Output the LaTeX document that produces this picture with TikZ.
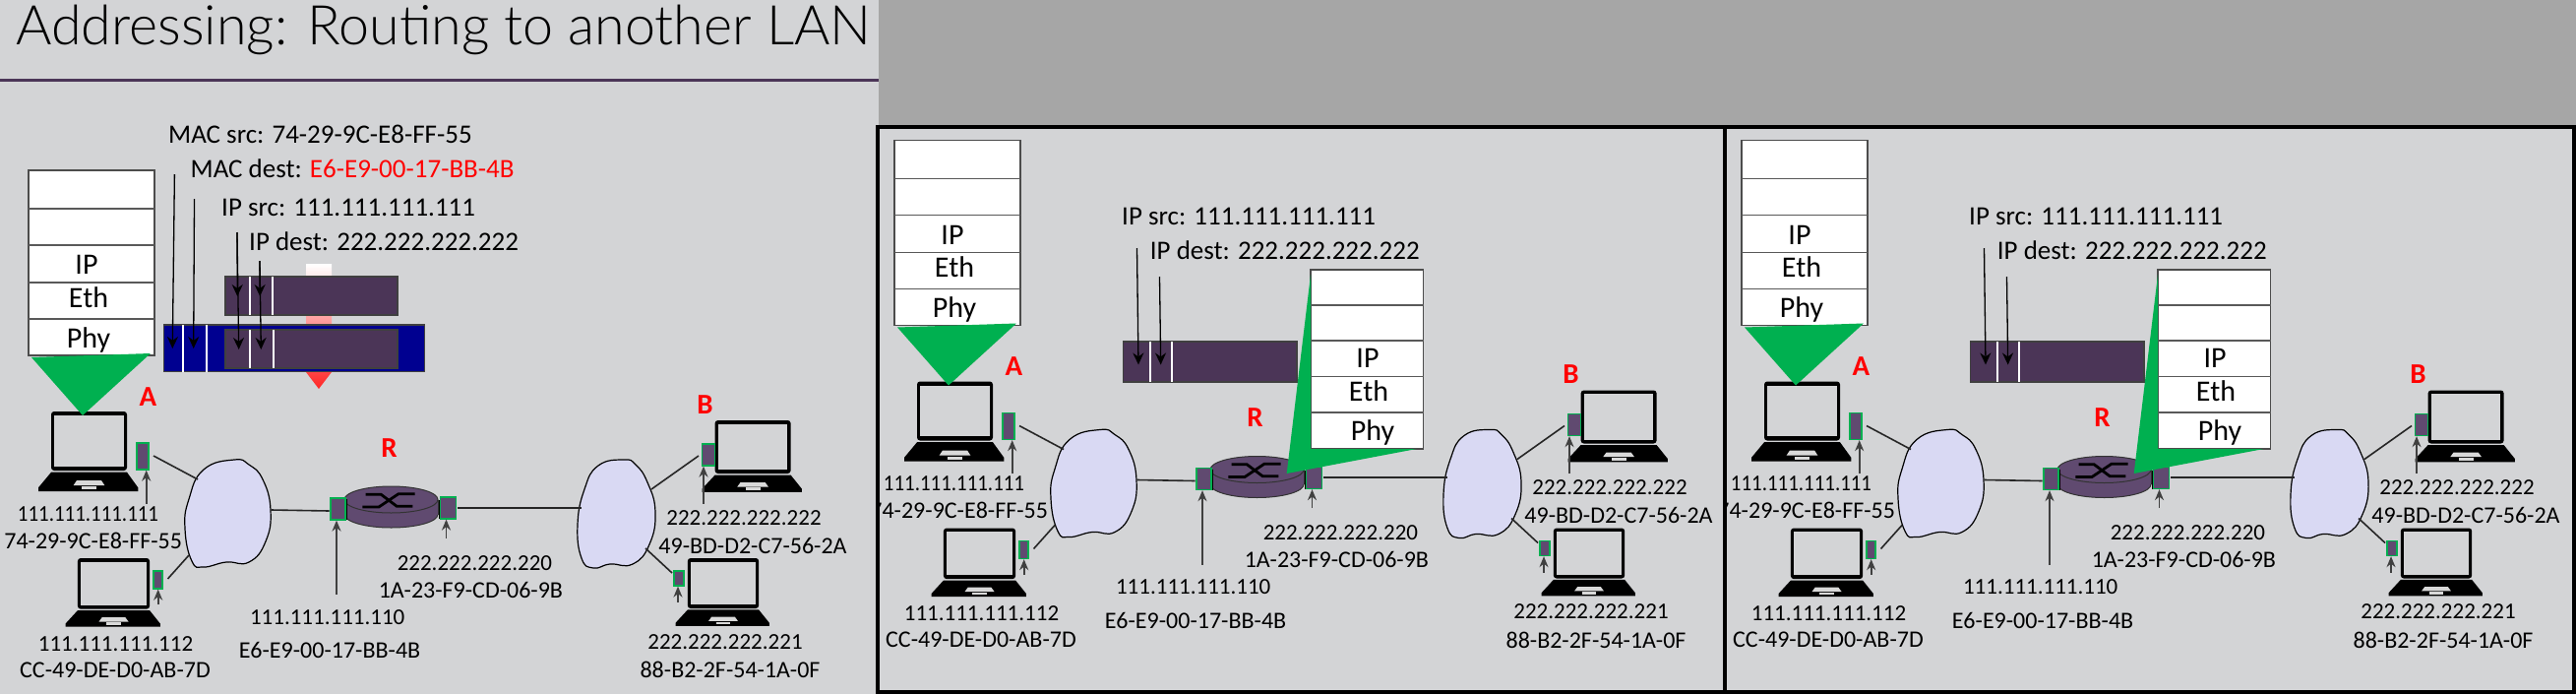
\documentclass[tikz,border=0pt]{standalone}
\usepackage{fontspec}
\setmainfont{Carlito}
\newfontfamily\titlefont{Lato Light}
\usepackage{xcolor}
\usetikzlibrary{arrows.meta}
\definecolor{panelgray}{HTML}{D3D4D6}
\definecolor{topgray}{HTML}{A6A6A6}
\definecolor{plum}{HTML}{4B3557}
\definecolor{routerplum}{HTML}{604A70}
\definecolor{stackgreen}{HTML}{00B050}
\definecolor{framenavy}{HTML}{000090}
\definecolor{cloudblue}{HTML}{D9D9F3}
\tikzset{
  netlabel/.style={inner sep=0pt,font=\fontsize{23}{27}\selectfont},
  maclabel/.style={inner sep=0pt,font=\fontsize{24}{27}\selectfont},
  fieldlabel/.style={inner sep=0pt,anchor=west,font=\fontsize{27}{30}\selectfont},
  layerlabel/.style={inner sep=0pt,font=\fontsize{30}{32}\selectfont},
  hostname/.style={inner sep=0pt,text=red,font=\bfseries\fontsize{29}{32}\selectfont},
  stackbox/.style={fill=white,draw=black!70,line width=1.5pt},
  stackline/.style={draw=black!65,line width=1.5pt},
  iface/.style={draw=stackgreen,fill=routerplum,line width=1.3pt,inner sep=0pt},
  wire/.style={draw=black!85,line width=1.6pt},
  labelarrow/.style={draw=black!75,line width=1.6pt,-{Stealth[length=11pt,width=9pt]}},
  fieldarrow/.style={draw=black,line width=1.3pt,-{Stealth[length=12pt,width=11pt]}},
  packetbox/.style={fill=plum,draw=black!75,line width=1.3pt},
  fieldbar/.style={draw=white,line width=2.4pt},
  laptop/.pic={
    \fill[black,rounded corners=3pt] (13,0) rectangle (90,60);
    \fill[panelgray] (16.3,4.3) rectangle (86.7,55.7);
    \fill[black] (13,61.7) -- (90,61.7) -- (101.3,77.3) -- (101.3,81) -- (0,81) -- (0,77.3) -- cycle;
    \fill[black!15] (39,70) -- (64,70) -- (67.3,75) -- (35.7,75) -- cycle;
    \fill[black!15] (44,76) rectangle (59,79);
  }
}

% everything that stays the same in the three views
\newcommand{\lannet}{
  % clouds
  \draw[fill=cloudblue,line width=1.2pt] plot [smooth cycle, tension=0.8] coordinates {(238,467)(207,477)(192,507)(188,537)(195,570)(207,576)(230,571)(253,571)(270,550)(275,518)(267,487)(253,472)};
  \draw[fill=cloudblue,line width=1.2pt] plot [smooth cycle, tension=0.8] coordinates {(634,467)(608,473)(594,497)(587,533)(591,567)(603,577)(620,573)(643,573)(660,553)(666,520)(658,490)(646,472)};

  % router
  \filldraw[fill=routerplum,draw=black!80,line width=1pt] (397.5,522.5) ellipse [x radius=47.5,y radius=13.5];
  \fill[routerplum] (350,507.5) rectangle (445,522.5);
  \draw[black!80,line width=1pt] (350,507.5) -- (350,522.5);
  \draw[black!80,line width=1pt] (445,507.5) -- (445,522.5);
  \filldraw[fill=routerplum,draw=black!80,line width=1pt] (397.5,507.5) ellipse [x radius=47.5,y radius=13.5];
  \draw[black,line width=2.8pt] (371.7,502.3) -- (387.3,502.3) -- (403.3,514.3) -- (419.3,514.3);
  \draw[black,line width=2.8pt] (368.3,515) -- (385,515) -- (405,501.7) -- (421.7,501.7);
  \draw[black,line width=1pt] (352.5,507) -- (352.5,528);
  \draw[black,line width=1pt] (446.7,508) -- (446.7,527);

  % hosts
  \pic at (39,418) {laptop};
  \pic[xscale=0.95,yscale=0.86] at (66.6,567) {laptop};
  \pic[yscale=0.9] at (713.6,427) {laptop};
  \pic[xscale=0.94,yscale=0.85] at (686.6,567) {laptop};

  % interfaces
  \node[iface,minimum width=12pt,minimum height=27pt] (ifA) at (145,463.5) {};
  \node[iface,minimum width=9pt,minimum height=18pt] (ifC) at (160.5,589) {};
  \node[iface,minimum width=15pt,minimum height=22pt] (ifRl) at (343.5,517) {};
  \node[iface,minimum width=16pt,minimum height=22pt] (ifRr) at (455.8,516) {};
  \node[iface,minimum width=13pt,minimum height=22pt] (ifB) at (720,462) {};
  \node[iface,minimum width=10pt,minimum height=15pt] (ifD) at (690,587.5) {};

  % links
  \coordinate (wireA) at (156,463);
  \coordinate (wireC) at (170.5,588);
  \coordinate (wireRl) at (334.7,519);
  \coordinate (wireRr) at (465,515.7);
  \coordinate (wireB) at (710,463);
  \coordinate (wireD) at (683,582);
  \coordinate (cloudLa) at (201,487);
  \coordinate (cloudLc) at (192,564);
  \coordinate (cloudLr) at (275.5,518);
  \coordinate (cloudRl) at (591,515.7);
  \coordinate (cloudRb) at (662,497);
  \coordinate (cloudRd) at (656,557);
  \draw[wire] (wireA) -- (cloudLa);
  \draw[wire] (wireC) -- (cloudLc);
  \draw[wire] (cloudLr) -- (wireRl);
  \draw[wire] (wireRr) -- (cloudRl);
  \draw[wire] (cloudRb) -- (wireB);
  \draw[wire] (cloudRd) -- (wireD);

  % address labels
  \node[netlabel,xscale=0.91] (ipA) at (89.5,521.7) {111.111.111.111};
  \node[maclabel] (macA) at (94.7,549) {74-29-9C-E8-FF-55};
  \node[netlabel] (ipC) at (117.5,654) {111.111.111.112};
  \node[maclabel] (macC) at (117,680.7) {CC-49-DE-D0-AB-7D};
  \node[netlabel] (ipRl) at (332.7,626.7) {111.111.111.110};
  \node[maclabel] (macRl) at (335,660.7) {E6-E9-00-17-BB-4B};
  \node[netlabel] (ipRr) at (482.4,571.7) {222.222.222.220};
  \node[maclabel] (macRr) at (478.4,599) {1A-23-F9-CD-06-9B};
  \node[netlabel] (ipB) at (756,525.7) {222.222.222.222};
  \node[maclabel] (macB) at (765,554) {49-BD-D2-C7-56-2A};
  \node[netlabel] (ipD) at (737,651.7) {222.222.222.221};
  \node[maclabel] (macD) at (742,680.7) {88-B2-2F-54-1A-0F};
  \node[hostname] (hostA) at (150.4,403) {A};
  \node[hostname] (hostB) at (716.4,411) {B};
  \node[hostname] (hostR) at (395.5,455) {R};

  % label arrows
  \coordinate (tailA) at (148.7,511.7);
  \coordinate (tailC) at (160.7,614);
  \coordinate (tailRl) at (342,604);
  \coordinate (tailRr) at (453.5,546.7);
  \coordinate (tailB) at (715,511.7);
  \coordinate (tailD) at (689,612);
  \draw[labelarrow] (tailA) -- (tailA |- ifA.south);
  \draw[labelarrow] (tailC) -- (tailC |- ifC.south);
  \draw[labelarrow] (tailRl) -- (tailRl |- ifRl.south);
  \draw[labelarrow] (tailRr) -- (tailRr |- ifRr.south);
  \draw[labelarrow] (tailB) -- (tailB |- ifB.south);
  \draw[labelarrow] (tailD) -- (tailD |- ifD.south);

  % stack of host A
  \filldraw[stackbox] (29,173) rectangle (157,361);
  \foreach \yy in {212,249,287,324} \draw[stackline] (29,\yy) -- (157,\yy);
  \node[layerlabel] (ipA-layer) at (88,269) {IP};
  \node[layerlabel] (ethA-layer) at (90,302) {Eth};
  \node[layerlabel] (phyA-layer) at (90,345) {Phy};
  \fill[stackgreen] (32,363) -- (153,359) -- (84,422) -- cycle;
}

\begin{document}
\begin{tikzpicture}[x=1pt,y=-1pt]
\useasboundingbox (0,0) rectangle (2618,705);
\fill[panelgray] (0,0) rectangle (2618,705);
\fill[topgray] (893,0) rectangle (2618,129);

\node[inner sep=0pt,anchor=base west,font=\titlefont\fontsize{55.6}{60}\selectfont] (title) at (16,45) {Addressing: Routing to another LAN};
\draw[plum,line width=3pt] (0,81) -- (893,81);

% first view
\shade[top color=white,bottom color=red!85] (311,268) -- (337,268) -- (337,378) -- (324,395) -- (311,378) -- cycle;
\lannet

\filldraw[packetbox] (229,281) rectangle (404,320);
\draw[fieldbar] (254,281) -- (254,320);
\draw[fieldbar] (276.7,281) -- (276.7,320);
\filldraw[fill=framenavy,draw=black!75,line width=1.3pt] (166.7,330) rectangle (431.7,377.7);
\draw[fieldbar] (186,330) -- (186,377.7);
\draw[fieldbar] (210,330) -- (210,377.7);
\filldraw[packetbox] (229,335) rectangle (404,374);
\draw[fieldbar] (254,335) -- (254,374);
\draw[fieldbar] (278,335) -- (278,374);

\node[fieldlabel] (macsrc) at (171,136) {MAC src: 74-29-9C-E8-FF-55};
\node[fieldlabel] (macdest) at (193.5,171) {MAC dest: \textcolor{red}{E6-E9-00-17-BB-4B}};
\node[fieldlabel] (ipsrc) at (225,211) {IP src: 111.111.111.111};
\node[fieldlabel] (ipdest) at (253,245) {IP dest: 222.222.222.222};

\coordinate (macsrcTail) at (177.4,177);
\coordinate (macsrcTip) at (175.3,354);
\coordinate (macdestTail) at (197.5,202);
\coordinate (macdestTip) at (196.7,354);
\coordinate (ipsrcTail) at (241,236);
\coordinate (ipsrcMid) at (241.3,301);
\coordinate (ipsrcTip) at (242.7,355);
\coordinate (ipdestTail) at (264,265);
\coordinate (ipdestMid) at (264.2,301);
\coordinate (ipdestTip) at (265.3,355);
\draw[fieldarrow] (macsrcTail) -- (macsrcTip);
\draw[fieldarrow] (macdestTail) -- (macdestTip);
\draw[fieldarrow] (ipsrcTail) -- (ipsrcMid);
\draw[fieldarrow] (ipsrcTail) -- (ipsrcTip);
\draw[fieldarrow] (ipdestTail) -- (ipdestMid);
\draw[fieldarrow] (ipdestTail) -- (ipdestTip);

% second and third view
\foreach \dx in {880,1741} {
\begin{scope}[xshift=\dx pt,yshift=30.5pt]
\clip (11.5,159.5) rectangle (872.5,733.5);
\lannet

\filldraw[packetbox] (261.8,377.5) rectangle (438,418.5);
\draw[fieldbar] (288.7,377.5) -- (288.7,418.5);
\draw[fieldbar] (311,377.5) -- (311,418.5);

\node[fieldlabel] (ipsrc) at (260,250.5) {IP src: 111.111.111.111};
\node[fieldlabel] (ipdest) at (288.7,285) {IP dest: 222.222.222.222};
\coordinate (ipsrcTail) at (275.5,282.5);
\coordinate (ipsrcTip) at (277,401);
\coordinate (ipdestTail) at (298.5,311.5);
\coordinate (ipdestTip) at (299.7,401);
\draw[fieldarrow] (ipsrcTail) -- (ipsrcTip);
\draw[fieldarrow] (ipdestTail) -- (ipdestTip);

% stack of the router
\filldraw[stackbox] (452,304.5) rectangle (566.6,486.5);
\foreach \yy in {340.5,376.5,413,449.5} \draw[stackline] (452,\yy) -- (566.6,\yy);
\node[layerlabel] (ipR-layer) at (510,394.5) {IP};
\node[layerlabel] (ethR-layer) at (511,427.5) {Eth};
\node[layerlabel] (phyR-layer) at (515,470) {Phy};
\fill[stackgreen] (452,309.5) -- (452,486.5) -- (559.7,486.5) -- (427.7,511.5) -- cycle;
\end{scope}
}

\draw[black,line width=4pt] (891.5,129) rectangle (2616,703);
\draw[black,line width=4pt] (1752.5,129) -- (1752.5,703);
\end{tikzpicture}
\end{document}
